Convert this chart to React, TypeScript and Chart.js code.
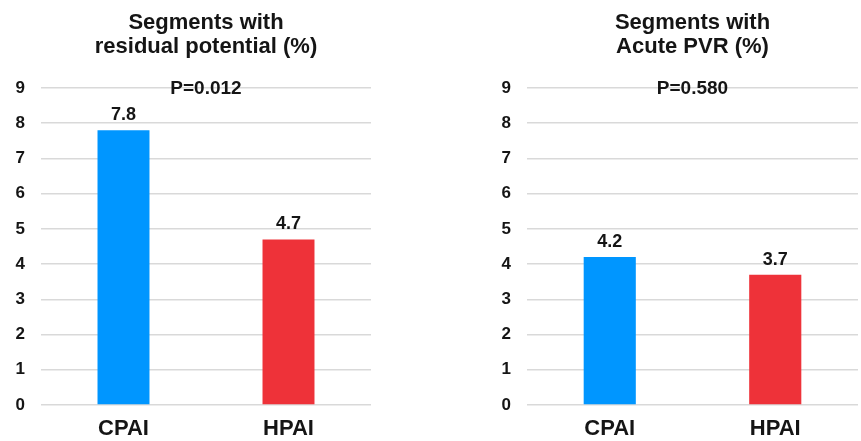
import React, { useEffect, useRef } from "react";
import { Chart, registerables } from "chart.js";

Chart.register(...registerables);

const categories = ["CPAI", "HPAI"];
const residualValues = [7.8, 4.7];
const acuteValues = [4.2, 3.7];
const residualTitle = ["Segments with", "residual potential (%)"];
const acuteTitle = ["Segments with", "Acute PVR (%)"];
const residualP = "P=0.012";
const acuteP = "P=0.580";
const barColors = ["#0096FF", "#EE3239"];
const yMin = 0;
const yMax = 9;

const FONT = '"Liberation Sans", Arial, Helvetica, sans-serif';
const TEXT = "#151515";

function makeAnnot(titleLines: string[], pText: string) {
  return {
    id: "annot",
    afterDraw(chart: any) {
      const { ctx, chartArea } = chart;
      const cx = (chartArea.left + chartArea.right) / 2;
      ctx.save();
      ctx.fillStyle = TEXT;
      ctx.textAlign = "center";
      ctx.textBaseline = "alphabetic";
      ctx.font = `bold 22px ${FONT}`;
      titleLines.forEach((l, i) => ctx.fillText(l, cx, 29 + i * 24));
      ctx.font = `bold 19px ${FONT}`;
      ctx.textBaseline = "middle";
      const py = chart.scales.y.getPixelForValue(yMax);
      ctx.fillText(pText, cx, py + 1);
      ctx.font = `bold 18px ${FONT}`;
      ctx.textBaseline = "alphabetic";
      const meta = chart.getDatasetMeta(0);
      const vals = chart.data.datasets[0].data as number[];
      meta.data.forEach((bar: any, i: number) => {
        ctx.fillText(vals[i].toFixed(1), bar.x, bar.y - 10);
      });
      ctx.restore();
    },
  };
}

function BarPanel(props: {
  values: number[];
  title: string[];
  pText: string;
  left: number;
  width: number;
  padLeft: number;
  padRight: number;
}) {
  const ref = useRef<HTMLCanvasElement | null>(null);
  useEffect(() => {
    if (!ref.current) return;
    const chart = new Chart(ref.current, {
      type: "bar",
      data: {
        labels: categories,
        datasets: [
          {
            data: props.values,
            backgroundColor: barColors,
            borderWidth: 0,
            categoryPercentage: 1,
            barPercentage: 0.315,
          },
        ],
      },
      options: {
        animation: false,
        responsive: false,
        layout: { padding: { top: 88, left: props.padLeft, right: props.padRight, bottom: 0 } },
        plugins: { legend: { display: false }, tooltip: { enabled: false }, title: { display: false } },
        scales: {
          x: {
            grid: { display: false, drawTicks: false },
            border: { display: false },
            ticks: { color: TEXT, font: { family: FONT, size: 22, weight: "bold" }, padding: 11 },
            afterFit: (s: any) => {
              s.height = 36;
            },
          },
          y: {
            min: yMin,
            max: yMax,
            grid: { color: "#d9d9d9", lineWidth: 1.5, drawTicks: false },
            border: { display: false },
            ticks: { stepSize: 1, color: TEXT, font: { family: FONT, size: 17, weight: "bold" }, padding: 16 },
            afterFit: (s: any) => {
              s.width = 41;
            },
          },
        },
      },
      plugins: [makeAnnot(props.title, props.pText)],
    } as any);
    return () => chart.destroy();
  }, []);
  return (
    <canvas
      ref={ref}
      width={props.width}
      height={441}
      style={{ position: "absolute", left: props.left, top: 0, width: props.width, height: 441 }}
    />
  );
}

export default function App() {
  return (
    <div style={{ position: "absolute", left: 0, top: 0, width: 861, height: 441, background: "#fff" }}>
      <BarPanel values={residualValues} title={residualTitle} pText={residualP} left={0} width={430} padLeft={0} padRight={59} />
      <BarPanel values={acuteValues} title={acuteTitle} pText={acuteP} left={430} width={431} padLeft={56} padRight={3} />
    </div>
  );
}
